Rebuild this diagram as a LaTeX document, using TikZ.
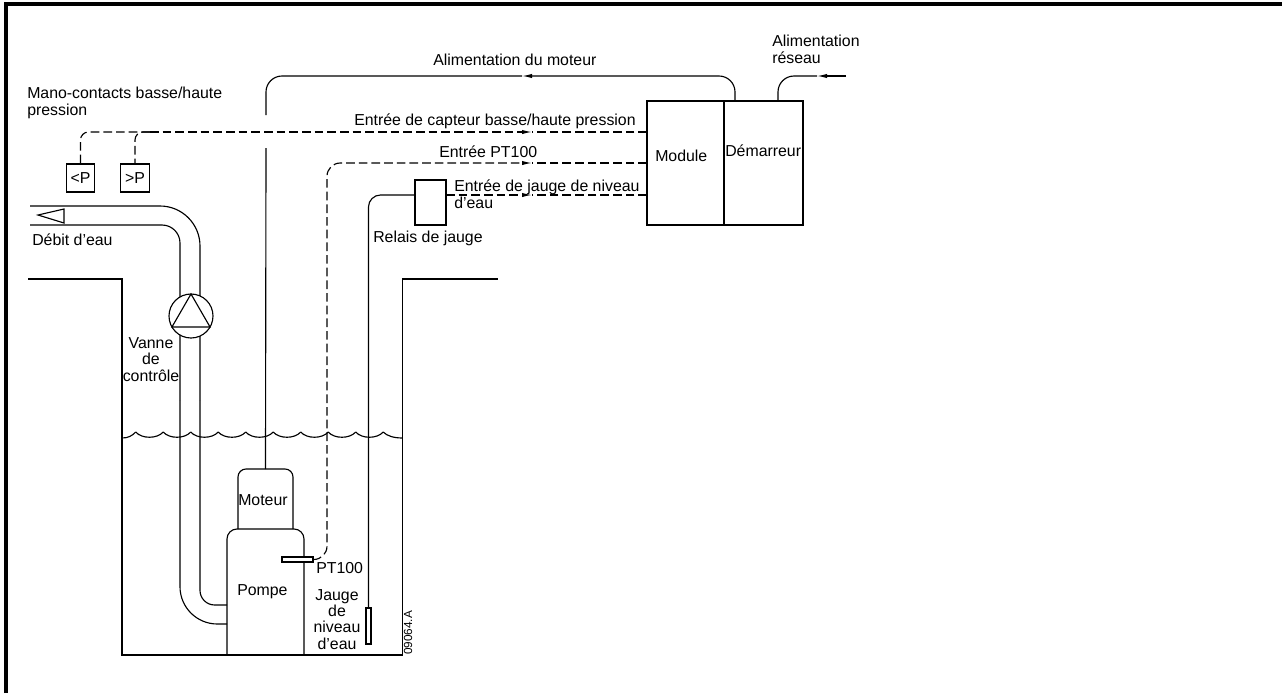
\documentclass[tikz,border=0pt]{standalone}
\usepackage{fontspec}
\setmainfont{Liberation Sans}
\usetikzlibrary{arrows.meta}
\tikzset{
lin/.style={line width=0.85pt},
dsh/.style={lin,dash pattern=on 6.5pt off 3pt},
tipa/.style={-{Latex[length=7.5pt,width=3.2pt]}},
box/.style={lin,draw,fill=white,inner sep=0pt,outer sep=0pt},
lab/.style={inner sep=0pt,anchor=base west,font=\fontsize{11.9}{12.1}\selectfont},
labc/.style={lab,anchor=base,align=center},
}
\begin{document}
\begin{tikzpicture}[x=0.75pt,y=-0.75pt]
\useasboundingbox (0,0) rectangle (1282,693);
\draw[line width=3pt,miter limit=10] (6,693) -- (6,4) -- (1282,4);
% pit and water
\draw[lin] (28,279) -- (122,279) -- (122,655) -- (402.5,655) -- (402.5,279) -- (498,279);
\draw[lin] (122,438) .. controls (128,438) and (132,436) .. (135.7,432);
\foreach \x in {135.7,163.2,190.7,218.2,245.7,273.2,300.7,328.2,355.7}
  \draw[lin] (\x,432) .. controls (\x+6,439) and (\x+21.5,439) .. (\x+27.5,432);
\draw[lin] (383.2,432) .. controls (387,436) and (394,438) .. (402.5,438);
% pipe
\draw[lin,rounded corners=30pt] (30,206) -- (200,206) -- (200,400);
\draw[lin,rounded corners=11pt] (200,400) -- (200,605) -- (227,605);
\draw[lin,rounded corners=13.5pt] (30,225) -- (180,225) -- (180,400);
\draw[lin,rounded corners=28pt] (180,400) -- (180,624) -- (227,624);
\draw[lin] (38,215) -- (64,209) -- (64,223) -- cycle;
\node[box,circle,minimum size=33pt] (vanne) at (191,316) {};
\draw[lin] (vanne.90) -- (vanne.210) -- (vanne.330) -- cycle;
% pump
\node[inner sep=0pt,outer sep=0pt,minimum width=41.25pt,minimum height=45pt] (mot) at (265.5,499) {};
\node[inner sep=0pt,outer sep=0pt,minimum width=57.75pt,minimum height=94.5pt] (pom) at (265.5,592) {};
\draw[lin,rounded corners=6pt] (mot.south west) -- (mot.north west) -- (mot.north east) -- (mot.south east);
\draw[lin,rounded corners=7.5pt] (pom.south west) -- (pom.north west) -- (pom.north east) -- (pom.south east);
\node[box,minimum width=23.25pt,minimum height=3.75pt] (pt) at (297.5,559.5) {};
\node[box,minimum width=3.75pt,minimum height=27pt] (gauge) at (368.5,626) {};
% boxes
\node[box,minimum width=21.5pt,minimum height=21pt,font=\fontsize{11.9}{12.1}\selectfont] (lowp) at (80.5,178) {<P};
\node[box,minimum width=21.5pt,minimum height=21pt,font=\fontsize{11.9}{12.1}\selectfont] (highp) at (135,178) {>P};
\node[box,minimum width=23.25pt,minimum height=33.75pt] (rel) at (430.5,202.5) {};
\node[box,minimum width=57.75pt,minimum height=93pt] (mod) at (685.5,163) {};
\node[box,minimum width=59.25pt,minimum height=93pt] (dem) at (763.5,163) {};
% wires
\coordinate (m1) at (735,76);
\coordinate (m2) at (522,76);
\coordinate (m3) at (266,76);
\coordinate (m4) at (266,115);
\coordinate (m5) at (266,148);
\coordinate (r1) at (846,76);
\coordinate (r2) at (817,76);
\coordinate (r3) at (778,76);
\coordinate (c1) at (532,132);
\coordinate (c2) at (80.5,132);
\coordinate (c3) at (150,132);
\coordinate (c4) at (135,132);
\coordinate (t1) at (532,163);
\coordinate (t2) at (327,163);
\coordinate (t3) at (327,559.5);
\coordinate (j1) at (532,195);
\coordinate (j2) at (368.5,195);
\draw[lin,tipa,rounded corners=12pt] (m1 |- dem.north) -- (m1) -- (m2);
\draw[lin,rounded corners=12pt] (m2) -- (m3) -- (m4);
\draw[lin] (m5) -- (mot.north);
\draw[lin,tipa] (r1) -- (r2);
\draw[lin,rounded corners=12pt] (r2) -- (r3) -- (r3 |- dem.north);
\draw[dsh,tipa] (c3) -- (c1);
\draw[dsh] (c1 -| mod.west) -- (c1);
\draw[dsh,rounded corners=6pt] (c3) -- (c2) -- (lowp.north);
\draw[dsh,rounded corners=6pt] (c3) -- (c4) -- (highp.north);
\draw[dsh,rounded corners=10pt,tipa] (pt.east) -- (t3) -- (t2) -- (t1);
\draw[dsh] (t1 -| mod.west) -- (t1);
\draw[dsh,tipa] (rel.east |- j1) -- (j1);
\draw[dsh] (j1 -| mod.west) -- (j1);
\draw[lin,rounded corners=9pt] (gauge.north) -- (j2) -- (j2 -| rel.west);
% labels
\node[lab] (l1) at (433,65) {Alimentation du moteur};
\node[lab,align=left] (l2) at (772,63) {Alimentation\\réseau};
\node[lab,align=left] (l3) at (27,115) {Mano-contacts basse/haute\\pression};
\node[lab] (l4) at (354,125) {Entrée de capteur basse/haute pression};
\node[lab] (l5) at (439,157) {Entrée PT100};
\node[lab,align=left] (l6) at (454,208) {Entrée de jauge de niveau\\d'eau};
\node[lab] (l7) at (373,242) {Relais de jauge};
\node[lab] (l8) at (32,245) {Débit d'eau};
\node[lab] (l9) at (655,161) {Module};
\node[lab] (l10) at (725,156) {Démarreur};
\node[labc] (l11) at (151,381) {Vanne\\de\\contrôle};
\node[lab] (l12) at (238,505) {Moteur};
\node[lab] (l13) at (237,595) {Pompe};
\node[lab] (l14) at (316,573) {PT100};
\node[labc] (l15) at (337,649) {Jauge\\de\\niveau\\d'eau};
\node[inner sep=0pt,anchor=base west,rotate=90,font=\fontsize{8.8}{10}\selectfont] (l16) at (412,655) {09064.A};
\end{tikzpicture}
\end{document}
